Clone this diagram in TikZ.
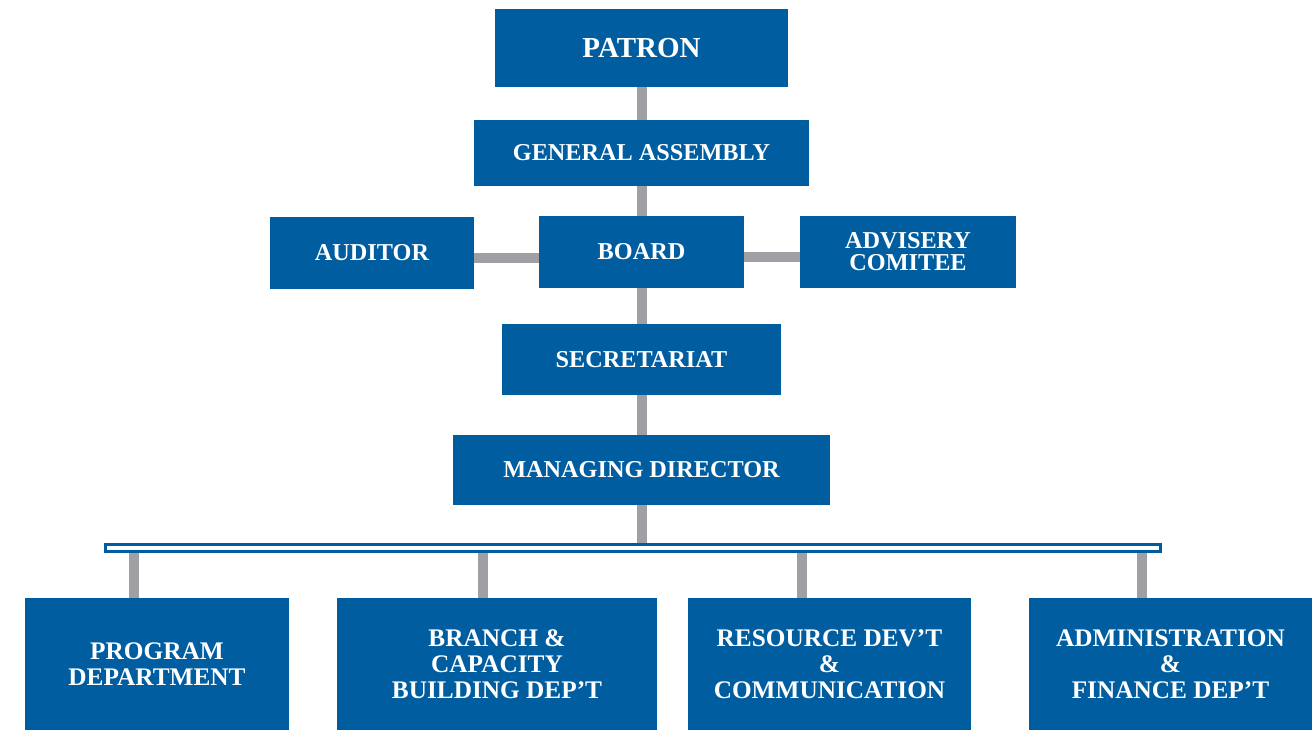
\documentclass[tikz,border=0pt]{standalone}
\usepackage{fontspec}
\setmainfont{Liberation Serif}
\newlength{\pxu}
\setlength{\pxu}{0.02cm}
\definecolor{orgblue}{RGB}{0,94,160}
\definecolor{linkgray}{RGB}{160,160,164}

\begin{document}
\begin{tikzpicture}[x=0.02cm, y=-0.02cm,
        unit/.style={fill=orgblue, text=white, align=center, inner sep=0pt,
            font=\bfseries\fontsize{13.8}{12.5}\selectfont},
        dept/.style={unit, anchor=north, minimum height=132\pxu,
            font=\bfseries\fontsize{14.4}{14.8}\selectfont},
        link/.style={draw=linkgray, line width=10\pxu}]
        \useasboundingbox (0,0) rectangle (1316,730);
        % top chain
        \node [unit, minimum width=293\pxu, minimum height=78\pxu,
            font=\bfseries\fontsize{16.5}{18}\selectfont] (patron) at (641.5,48) {PATRON};
        \node [unit, minimum width=335\pxu, minimum height=66\pxu] (assembly) at (641.5,153) {GENERAL ASSEMBLY};
        \node [unit, minimum width=205\pxu, minimum height=72\pxu] (board) at (641.5,252) {BOARD};
        \node [unit, minimum width=204\pxu, minimum height=72\pxu] (auditor) at (372,253) {AUDITOR};
        \node [unit, minimum width=216\pxu, minimum height=72\pxu] (advisory) at (908,252) {ADVISERY\\COMITEE};
        \node [unit, minimum width=279\pxu, minimum height=71\pxu] (secretariat) at (641.5,359.5) {SECRETARIAT};
        \node [unit, minimum width=377\pxu, minimum height=70\pxu] (director) at (641.5,470) {MANAGING DIRECTOR};
        % distribution bar
        \node [draw=orgblue, fill=white, line width=3\pxu, inner sep=0pt,
            minimum width=1055\pxu, minimum height=7\pxu] (bar) at (633,548) {};
        % departments
        \node [dept, minimum width=264\pxu] (program) at (157,598) {PROGRAM\\DEPARTMENT};
        \node [dept, minimum width=320\pxu] (branch) at (497,598) {BRANCH \&\\CAPACITY\\BUILDING DEP’T};
        \node [dept, minimum width=283\pxu] (resource) at (829.5,598) {RESOURCE DEV’T\\\&\\COMMUNICATION};
        \node [dept, minimum width=283\pxu] (admin) at (1170.5,598) {ADMINISTRATION\\\&\\FINANCE DEP’T};
        % connectors
        \draw [link] (patron) -- (assembly);
        \draw [link] (assembly) -- (board);
        \draw [link] (board) -- (secretariat);
        \draw [link] (secretariat) -- (director);
        \draw [link] ([yshift=-5\pxu]auditor.east) -- ([yshift=-5\pxu]auditor.east -| board.west);
        \draw [link] ([yshift=-5\pxu]board.east) -- ([yshift=-5\pxu]board.east -| advisory.west);
        \draw [link] (director.south) -- (director.south |- bar.north);
        \coordinate (d1) at (134,548);
        \coordinate (d2) at (483,548);
        \coordinate (d3) at (802,548);
        \coordinate (d4) at (1142,548);
        \draw [link] (d1 |- bar.south) -- (d1 |- program.north);
        \draw [link] (d2 |- bar.south) -- (d2 |- branch.north);
        \draw [link] (d3 |- bar.south) -- (d3 |- resource.north);
        \draw [link] (d4 |- bar.south) -- (d4 |- admin.north);
\end{tikzpicture}
\end{document}
